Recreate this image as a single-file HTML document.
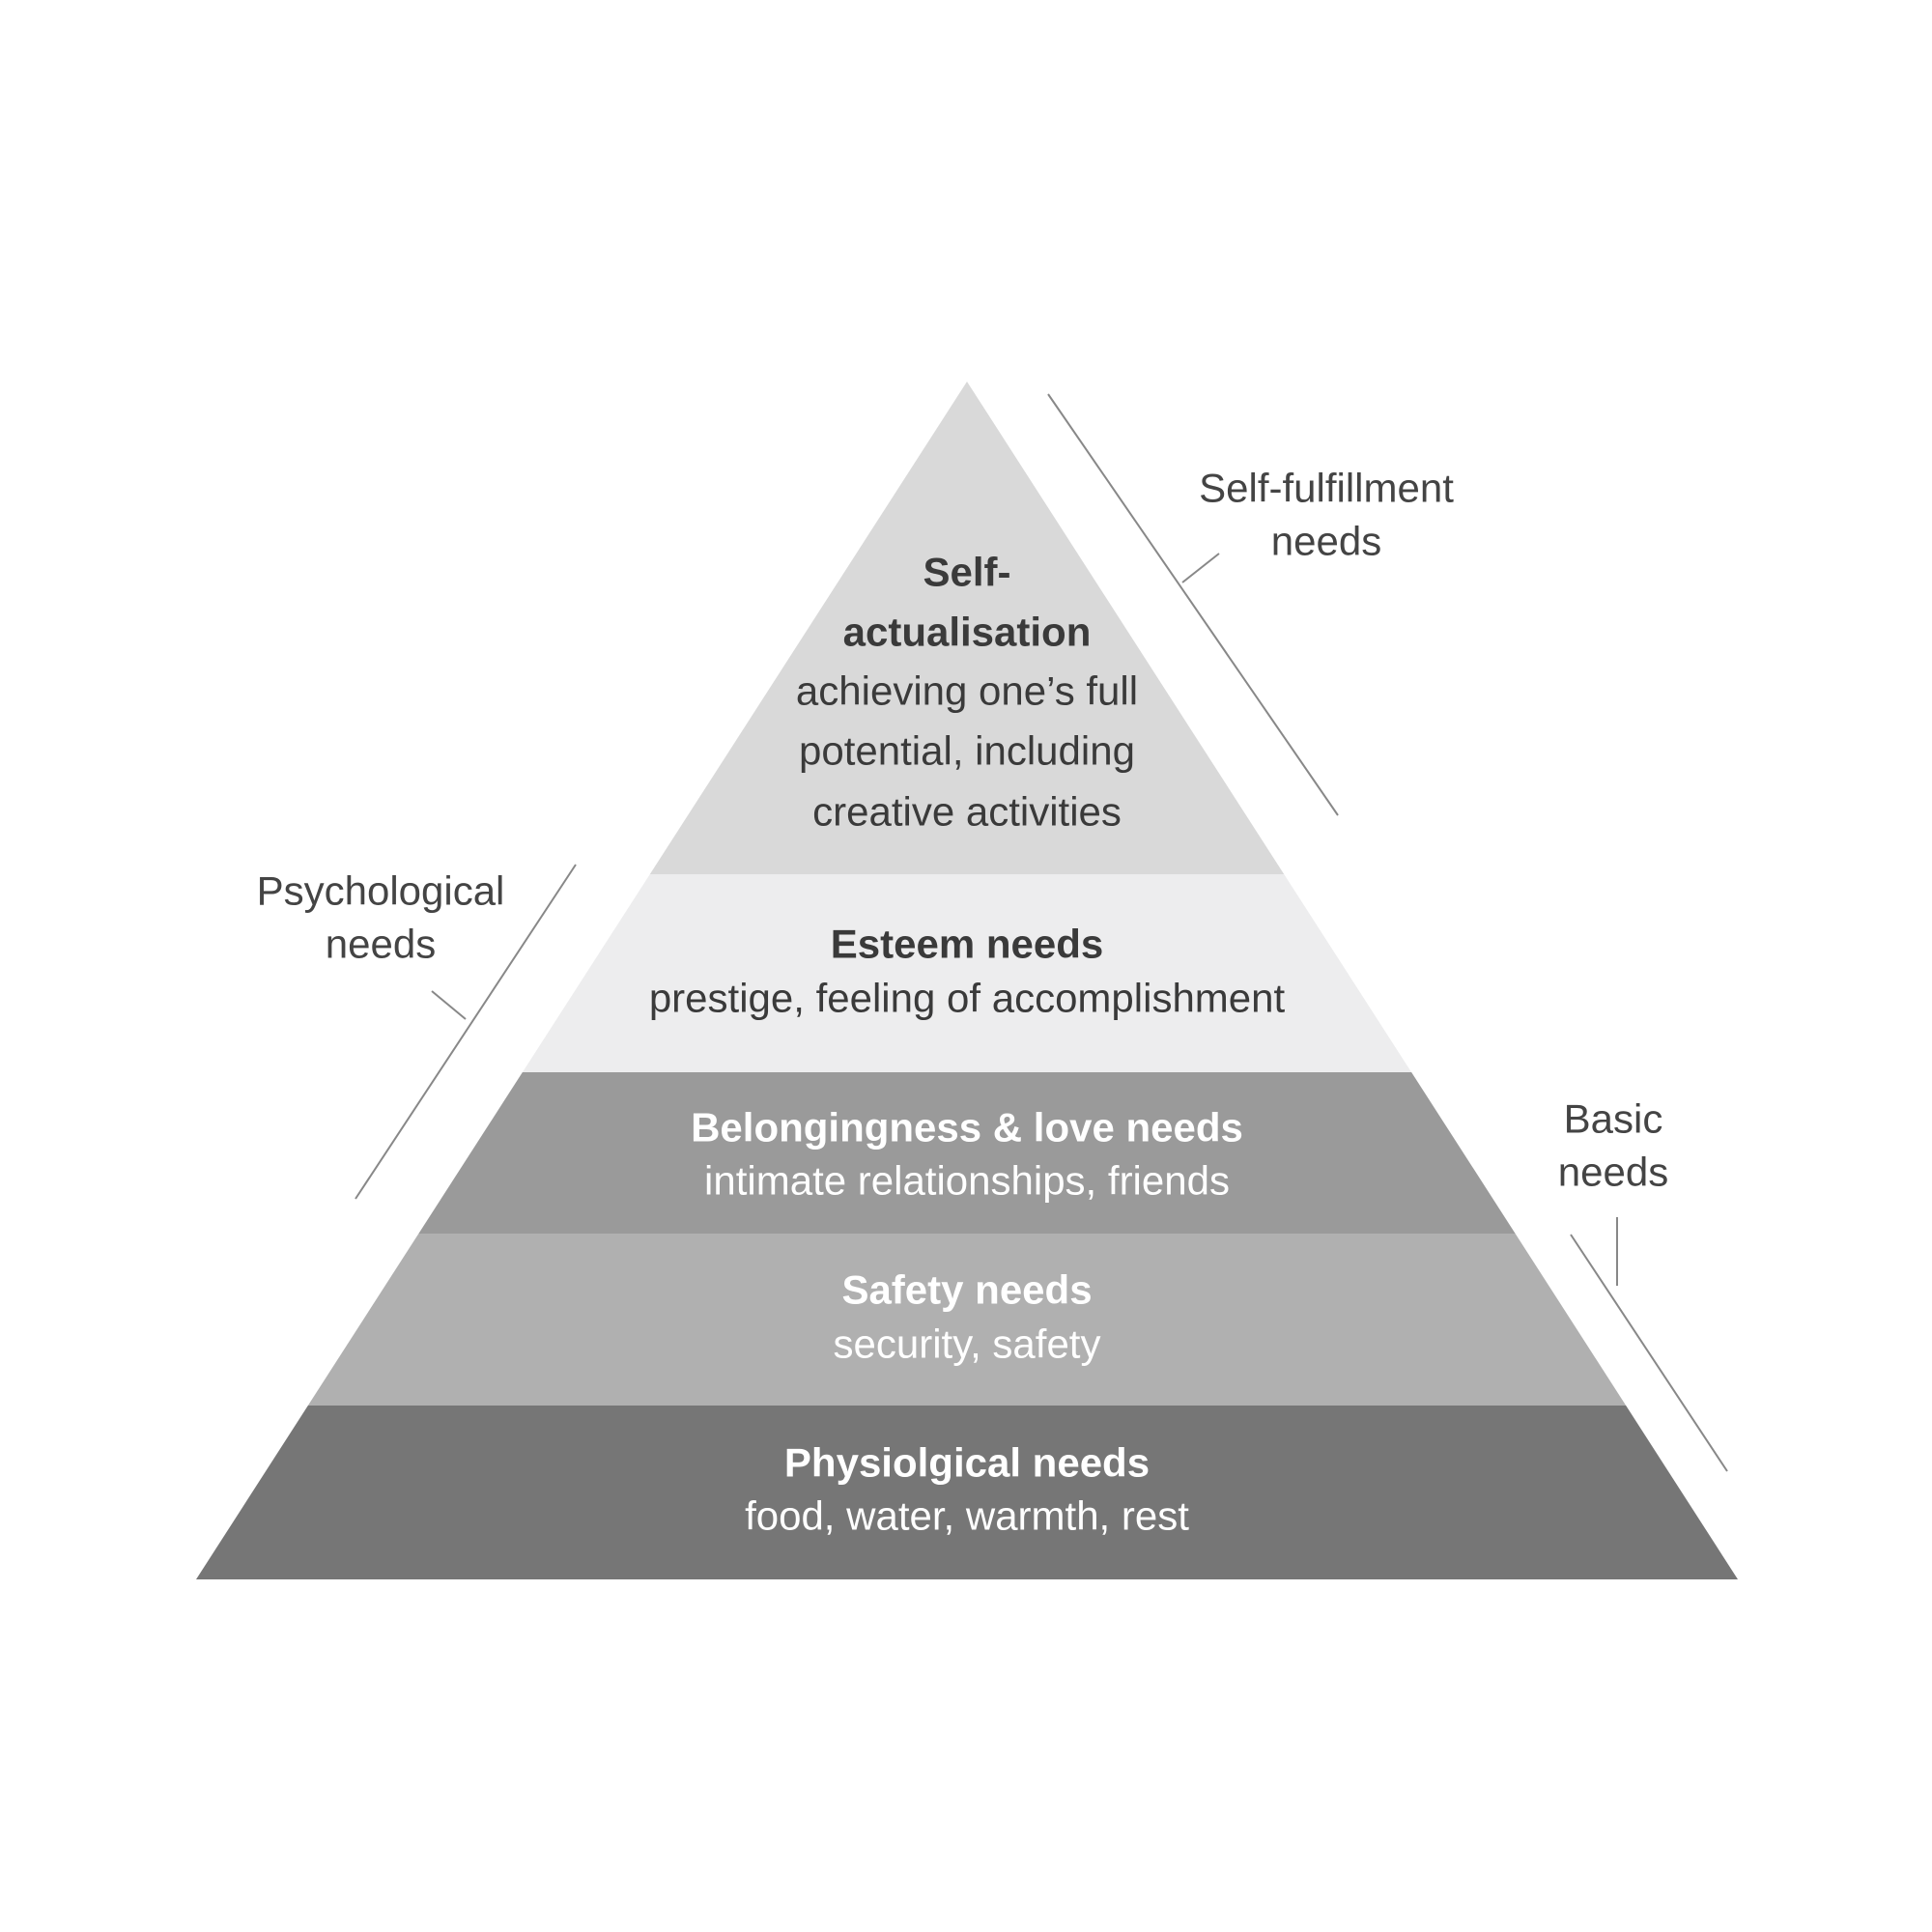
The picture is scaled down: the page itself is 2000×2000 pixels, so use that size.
<!DOCTYPE html>
<html><head><meta charset="utf-8"><style>
html,body{margin:0;padding:0;background:#fff;}
svg{display:block;}
text{font-family:"Liberation Sans",sans-serif;text-anchor:middle;dominant-baseline:central;}
.b{font-weight:bold;}
</style></head><body>
<svg width="2000" height="2000" viewBox="0 0 2000 2000" xmlns="http://www.w3.org/2000/svg">
<defs><clipPath id="tri"><polygon points="1001,395 203,1635 1799,1635"/></clipPath></defs>
<g clip-path="url(#tri)">
<rect x="0" y="380" width="2000" height="525" fill="#d9d9d9"/>
<rect x="0" y="905" width="2000" height="205" fill="#ededee"/>
<rect x="0" y="1110" width="2000" height="167" fill="#9a9a9a"/>
<rect x="0" y="1277" width="2000" height="178" fill="#b0b0b0"/>
<rect x="0" y="1455" width="2000" height="190" fill="#767676"/>
</g>
<g font-size="42" fill="#3a3a3a">
<text class="b" x="1001" y="592">Self-</text>
<text class="b" x="1001" y="654">actualisation</text>
<text x="1001" y="715">achieving one’s full</text>
<text x="1001" y="777">potential, including</text>
<text x="1001" y="840">creative activities</text>
<text class="b" x="1001" y="977">Esteem needs</text>
<text x="1001" y="1033">prestige, feeling of accomplishment</text>
</g>
<g font-size="42" fill="#ffffff">
<text class="b" x="1001" y="1167">Belongingness &amp; love needs</text>
<text x="1001" y="1222">intimate relationships, friends</text>
<text class="b" x="1001" y="1335">Safety needs</text>
<text x="1001" y="1391">security, safety</text>
<text class="b" x="1001" y="1514">Physiolgical needs</text>
<text x="1001" y="1569">food, water, warmth, rest</text>
</g>
<g font-size="42" fill="#444">
<text x="1373" y="505">Self-fulfillment</text>
<text x="1373" y="560">needs</text>
<text x="394" y="922">Psychological</text>
<text x="394" y="977">needs</text>
<text x="1670" y="1158">Basic</text>
<text x="1670" y="1213">needs</text>
</g>
<g stroke="#888" stroke-width="2" fill="none">
<line x1="1085" y1="408" x2="1385" y2="844"/>
<line x1="1224" y1="603" x2="1262" y2="573"/>
<line x1="596" y1="895" x2="368" y2="1241"/>
<line x1="447" y1="1026" x2="482" y2="1055"/>
<line x1="1626" y1="1278" x2="1788" y2="1523"/>
<line x1="1674" y1="1260" x2="1674" y2="1331"/>
</g>
</svg>
</body></html>
